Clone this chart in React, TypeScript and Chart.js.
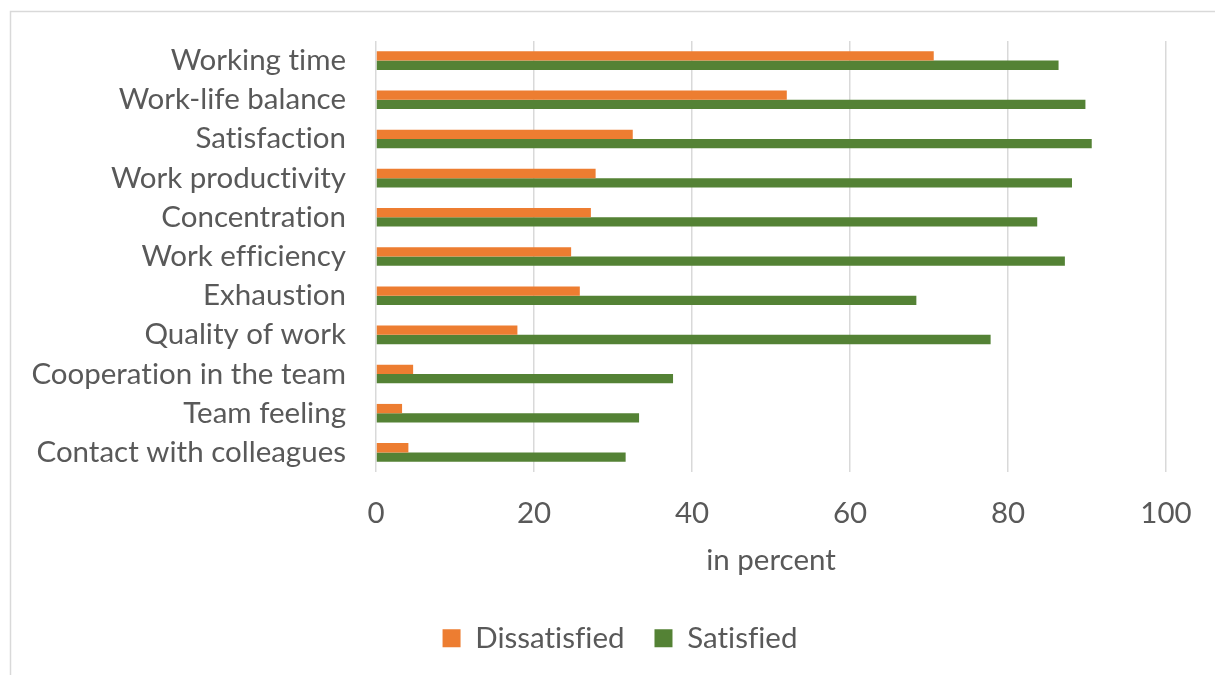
import React, { useEffect, useRef } from "react";
import { Chart, registerables } from "chart.js";

Chart.register(...registerables);

// Survey topics, top to bottom
const categories = [
  "Working time",
  "Work-life balance",
  "Satisfaction",
  "Work productivity",
  "Concentration",
  "Work efficiency",
  "Exhaustion",
  "Quality of work",
  "Cooperation in the team",
  "Team feeling",
  "Contact with colleagues",
];

// Share of respondents, in percent
const dissatisfied = [70.6, 52.0, 32.5, 27.8, 27.2, 24.7, 25.8, 17.9, 4.7, 3.3, 4.1];
const satisfied = [86.4, 89.8, 90.6, 88.1, 83.7, 87.2, 68.4, 77.8, 37.6, 33.3, 31.6];

const xMin = 0;
const xMax = 100;
const xStep = 20;
const xTitle = "in percent";

const FONT = "Lato, 'Open Sans', sans-serif";
const SIZE = 29.5;
const TEXT = "#595959";
const GRID = "#d9d9d9";

// White background, the light frame along the top and left edges,
// and plain (ligature-free) text rendering
const framePlugin = {
  id: "frame",
  beforeLayout(chart: any) {
    chart.ctx.textRendering = "optimizeSpeed";
  },
  beforeDraw(chart: any) {
    const { ctx, width, height } = chart;
    ctx.textRendering = "optimizeSpeed";
    ctx.save();
    ctx.fillStyle = "#ffffff";
    ctx.fillRect(0, 0, width, height);
    ctx.strokeStyle = GRID;
    ctx.lineWidth = 1.5;
    ctx.beginPath();
    ctx.moveTo(10.5, height);
    ctx.lineTo(10.5, 11.5);
    ctx.lineTo(width, 11.5);
    ctx.stroke();
    ctx.restore();
  },
};

export default function App() {
  const canvasRef = useRef<HTMLCanvasElement | null>(null);

  useEffect(() => {
    const canvas = canvasRef.current;
    if (!canvas) return;
    const font = { family: FONT, size: SIZE };
    const chart = new Chart(canvas, {
      type: "bar",
      data: {
        labels: categories,
        datasets: [
          {
            label: "Dissatisfied",
            data: dissatisfied,
            backgroundColor: "#ED7D31",
            borderWidth: 0,
            categoryPercentage: 0.475,
            barPercentage: 1,
          },
          {
            label: "Satisfied",
            data: satisfied,
            backgroundColor: "#548235",
            borderWidth: 0,
            categoryPercentage: 0.475,
            barPercentage: 1,
          },
        ],
      },
      options: {
        indexAxis: "y",
        animation: false,
        responsive: false,
        devicePixelRatio: 1,
        layout: { padding: { left: 25, right: 0, top: 41, bottom: 12 } },
        plugins: {
          legend: {
            position: "bottom",
            labels: {
              color: TEXT,
              font,
              boxWidth: 18,
              boxHeight: 18,
              padding: 30,
            },
          },
          tooltip: { enabled: false },
        },
        scales: {
          x: {
            type: "linear",
            min: xMin,
            max: xMax,
            ticks: {
              stepSize: xStep,
              color: TEXT,
              font,
              padding: 24,
            },
            grid: { color: GRID, lineWidth: 1.5, drawTicks: false },
            border: { display: false },
            title: {
              display: true,
              text: xTitle,
              color: TEXT,
              font,
              padding: { top: 0, bottom: 15 },
            },
            afterFit(scale: any) {
              scale.height = 121.5;
              scale.paddingRight = 49;
            },
          },
          y: {
            type: "category",
            ticks: {
              color: TEXT,
              font,
              padding: 30,
            },
            grid: { display: false, drawTicks: false },
            border: { display: false },
            afterFit(scale: any) {
              scale.width = 351;
              scale.paddingTop = 0;
              scale.paddingBottom = 0;
            },
          },
        },
      },
      plugins: [framePlugin],
    });
    return () => chart.destroy();
  }, []);

  return (
    <div style={{ position: "absolute", left: 0, top: 0, width: 1215, height: 675 }}>
      <canvas ref={canvasRef} width={1215} height={675} />
    </div>
  );
}
